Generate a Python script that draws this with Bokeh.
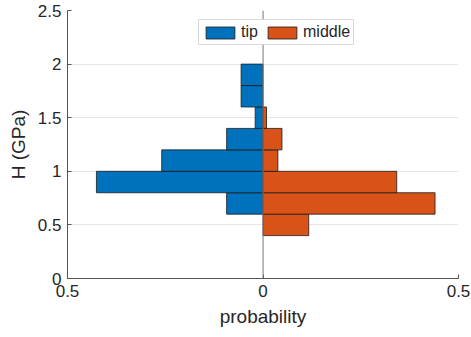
from bokeh.plotting import figure
from bokeh.models import Legend, LegendItem, FixedTicker, Span, ColumnDataSource
from bokeh.embed import file_html
from bokeh.resources import INLINE

# Data
bin_lo = [0.4, 0.6, 0.8, 1.0, 1.2, 1.4, 1.6, 1.8]
bin_hi = [0.6, 0.8, 1.0, 1.2, 1.4, 1.6, 1.8, 2.0]
tip = [0.0, 0.093, 0.426, 0.259, 0.093, 0.02, 0.056, 0.056]
middle = [0.117, 0.44, 0.342, 0.038, 0.0485, 0.009, 0.0, 0.0]
x_ticks = [-0.5, 0, 0.5]
x_tick_labels = ["0.5", "0", "0.5"]
y_ticks = [0, 0.5, 1, 1.5, 2, 2.5]
y_tick_labels = ["0", "0.5", "1", "1.5", "2", "2.5"]

FONT = "Liberation Sans"
BLUE = "#0072BD"
ORANGE = "#D95319"
TXT = "#262626"

p = figure(width=471, height=337, output_backend="svg", toolbar_location=None,
           x_range=(-0.5, 0.5), y_range=(0, 2.5),
           min_border_left=67, min_border_right=13, min_border_top=10, min_border_bottom=59)
p.outline_line_color = None

tip_src = ColumnDataSource(dict(
    left=[-v for v in tip if v > 0], right=[0 for v in tip if v > 0],
    bottom=[b for b, v in zip(bin_lo, tip) if v > 0], top=[t for t, v in zip(bin_hi, tip) if v > 0]))
mid_src = ColumnDataSource(dict(
    left=[0 for v in middle if v > 0], right=[v for v in middle if v > 0],
    bottom=[b for b, v in zip(bin_lo, middle) if v > 0], top=[t for t, v in zip(bin_hi, middle) if v > 0]))

r_tip = p.quad(left="left", right="right", bottom="bottom", top="top", source=tip_src,
               fill_color=BLUE, line_color="#1a1a1a", line_alpha=0.8, line_width=1)
r_mid = p.quad(left="left", right="right", bottom="bottom", top="top", source=mid_src,
               fill_color=ORANGE, line_color="#1a1a1a", line_alpha=0.8, line_width=1)

p.add_layout(Span(location=0, dimension="height", line_color="#808080", line_width=1))

# axes
p.xaxis.ticker = FixedTicker(ticks=x_ticks)
p.xaxis.major_label_overrides = {float(t): l for t, l in zip(x_ticks, x_tick_labels)}
p.yaxis.ticker = FixedTicker(ticks=y_ticks)
p.yaxis.major_label_overrides = {float(t): l for t, l in zip(y_ticks, y_tick_labels)}
for ax in (p.xaxis, p.yaxis):
    ax.axis_line_color = "#555555"
    ax.major_tick_line_color = "#555555"
    ax.major_tick_in = 4
    ax.major_tick_out = 0
    ax.minor_tick_line_color = None
    ax.major_label_text_font = FONT
    ax.major_label_text_font_size = "17px"
    ax.major_label_text_color = TXT
    ax.axis_label_text_font = FONT
    ax.axis_label_text_font_size = "19px"
    ax.axis_label_text_font_style = "normal"
    ax.axis_label_text_color = TXT
    ax.major_label_standoff = 6
    ax.axis_label_standoff = 6
p.xaxis.axis_label = "probability"
p.yaxis.axis_label = "H (GPa)"

p.xgrid.grid_line_color = "#e6e6e6"
p.ygrid.grid_line_color = "#e6e6e6"

legend = Legend(items=[LegendItem(label="tip", renderers=[r_tip]),
                       LegendItem(label="middle", renderers=[r_mid])],
                orientation="horizontal", location=(131, 233),
                glyph_width=36, glyph_height=15, label_height=15,
                label_text_font=FONT, label_text_font_size="16px", label_text_color=TXT,
                padding=3, spacing=3, label_standoff=3, margin=0,
                border_line_color="#b0b0b0", background_fill_color="white", background_fill_alpha=1)
p.add_layout(legend)

open("out.html", "w").write(file_html(p, INLINE))
